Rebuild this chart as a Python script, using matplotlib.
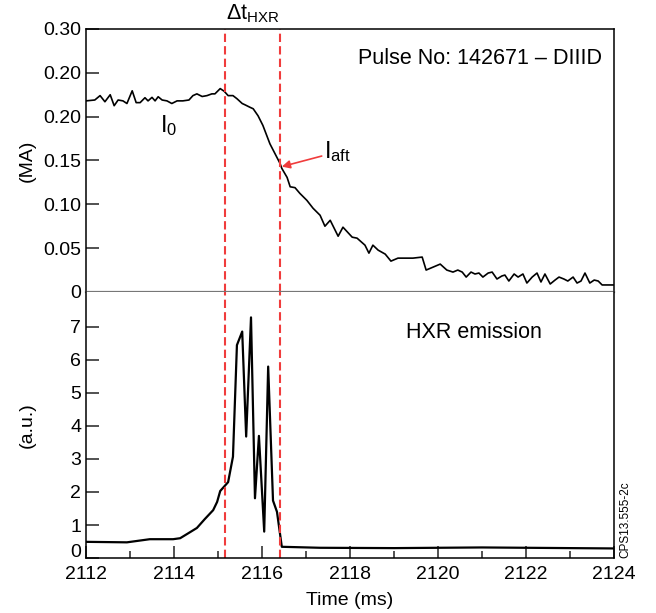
import matplotlib
matplotlib.use("Agg")
import matplotlib.pyplot as plt
import matplotlib.transforms as mtransforms
from matplotlib.ticker import FixedLocator, MultipleLocator

plt.rcParams['font.family'] = ['Liberation Sans', 'DejaVu Sans']
plt.rcParams['mathtext.fontset'] = 'custom'
plt.rcParams['mathtext.rm'] = 'Liberation Sans'
plt.rcParams['mathtext.it'] = 'Liberation Sans'

# ---- data: plasma current (MA) ----
t_ip = [2112.00, 2112.20, 2112.32, 2112.43, 2112.55, 2112.64, 2112.73, 2112.84, 2112.93,
        2113.05, 2113.14, 2113.23, 2113.34, 2113.41, 2113.50, 2113.57, 2113.64, 2113.73,
        2113.84, 2113.95, 2114.07, 2114.20, 2114.34, 2114.43, 2114.52, 2114.64, 2114.75,
        2114.86, 2114.93, 2115.05, 2115.14, 2115.23, 2115.34, 2115.43, 2115.55, 2115.61,
        2115.73, 2115.80, 2115.91, 2116.02, 2116.18, 2116.41, 2116.45, 2116.57, 2116.64,
        2116.75, 2116.86, 2117.02, 2117.16, 2117.32, 2117.43, 2117.55, 2117.73, 2117.84,
        2118.05, 2118.16, 2118.34, 2118.43, 2118.52, 2118.64, 2118.80, 2118.93, 2119.09,
        2119.30, 2119.43, 2119.64, 2119.73, 2119.89, 2120.05, 2120.20, 2120.34, 2120.45,
        2120.55, 2120.64, 2120.75, 2120.84, 2120.93, 2121.02, 2121.14, 2121.23, 2121.34,
        2121.45, 2121.52, 2121.61, 2121.73, 2121.82, 2121.93, 2122.02, 2122.14, 2122.25,
        2122.34, 2122.43, 2122.55, 2122.66, 2122.75, 2122.86, 2122.95, 2123.07, 2123.16,
        2123.25, 2123.34, 2123.45, 2123.55, 2123.64, 2123.73, 2123.84, 2124.00]
ip = [0.218, 0.219, 0.224, 0.217, 0.225, 0.2125, 0.219, 0.218, 0.215,
      0.2295, 0.216, 0.216, 0.2216, 0.218, 0.222, 0.218, 0.2227, 0.219,
      0.218, 0.215, 0.218, 0.218, 0.219, 0.224, 0.226, 0.223, 0.224,
      0.226, 0.226, 0.232, 0.229, 0.224, 0.224, 0.2205, 0.215, 0.2136,
      0.2106, 0.209, 0.201, 0.190, 0.169, 0.1466, 0.141, 0.1307, 0.120,
      0.119, 0.1125, 0.1045, 0.0955, 0.0875, 0.075, 0.0818, 0.0636, 0.0739,
      0.0625, 0.0614, 0.0534, 0.0443, 0.0534, 0.0477, 0.0432, 0.0352, 0.0386,
      0.0386, 0.0386, 0.0398, 0.025, 0.0284, 0.0318, 0.025, 0.0227, 0.025,
      0.0227, 0.017, 0.0227, 0.0205, 0.0216, 0.017, 0.0216, 0.0227, 0.0148,
      0.0182, 0.0193, 0.0125, 0.0205, 0.017, 0.0205, 0.0102, 0.017, 0.0216,
      0.0114, 0.0205, 0.0091, 0.0136, 0.017, 0.0148, 0.0125, 0.017, 0.0102,
      0.0125, 0.0216, 0.0102, 0.0136, 0.0125, 0.008, 0.008, 0.008]

# ---- data: HXR emission (a.u.) ----
t_hxr = [2112.00, 2112.93, 2113.45, 2113.98, 2114.14, 2114.30, 2114.52, 2114.70, 2114.89,
         2114.98, 2115.05, 2115.23, 2115.34, 2115.43, 2115.55, 2115.64, 2115.75, 2115.84,
         2115.93, 2116.05, 2116.14, 2116.25, 2116.34, 2116.45, 2117.32, 2119.00, 2121.00,
         2124.00]
hxr = [0.49, 0.475, 0.57, 0.57, 0.60, 0.73, 0.91, 1.18, 1.45,
       1.70, 2.03, 2.30, 3.07, 6.45, 6.86, 3.68, 7.29, 1.81,
       3.70, 0.80, 5.80, 1.74, 1.40, 0.34, 0.31, 0.30, 0.32,
       0.29]

t_hxr_window = [2115.16, 2116.41]
ip_ticks = [0, 0.05, 0.10, 0.15, 0.20, 0.25, 0.30]
ip_ticklabels = ['0', '0.05', '0.10', '0.15', '0.20', '0.20', '0.30']
hxr_ticks = [0, 1, 2, 3, 4, 5, 6, 7]
x_ticks = [2112, 2114, 2116, 2118, 2120, 2122, 2124]

RED = '#f03c3c'
FS = 14
FT = 15.5

fig = plt.figure(figsize=(6.56, 6.13), dpi=100)
ax1 = fig.add_axes([0.1311, 0.5237, 0.8049, 0.4290])
ax2 = fig.add_axes([0.1311, 0.0897, 0.8049, 0.4340])

for ax in (ax1, ax2):
    ax.set_xlim(2112, 2124)
    ax.tick_params(direction='in', labelsize=FS, length=9, width=1.2, color='#333333')
    for s in ax.spines.values():
        s.set_linewidth(1.1)

# top panel
ax1.plot(t_ip, ip, color='black', lw=1.2)
ax1.set_ylim(0, 0.30)
ax1.yaxis.set_major_locator(FixedLocator(ip_ticks))
ax1.set_yticklabels(ip_ticklabels)
ax1.set_xticks([])
ax1.spines['bottom'].set_color('#777777')
ax1.spines['bottom'].set_linewidth(1.6)
ax1.set_ylabel('(MA)', fontsize=FS)
ax1.yaxis.set_label_coords(-0.095, 0.5)
for tv in t_hxr_window:
    ax1.axvline(tv, color=RED, lw=1.5, ls=(0, (4, 2)))
ax1.text(2123.72, 0.266, 'Pulse No: 142671 \u2013 DIIID', fontsize=FT, ha='right', va='center')
ax1.text(2113.87, 0.190, r'$\mathrm{I}_{0}$', fontsize=FT + 1.5, ha='center', va='center')
ax1.annotate(r'$\mathrm{I}_{\mathrm{aft}}$', xy=(2116.45, 0.143), xytext=(2117.42, 0.160),
             fontsize=FT + 1.5, ha='left', va='center',
             arrowprops=dict(arrowstyle='-|>', color=RED, lw=1.2, mutation_scale=12,
                             shrinkA=0, shrinkB=0))
ax1.text(sum(t_hxr_window) / 2, 0.305, r'$\Delta\mathrm{t}_{\mathrm{HXR}}$', fontsize=FT,
         ha='center', va='bottom')

# bottom panel
ax2.plot(t_hxr, hxr, color='black', lw=1.6)
ax2.set_ylim(0, 8.06)
ax2.yaxis.set_major_locator(FixedLocator(hxr_ticks))
ax2.set_xticks(x_ticks)
ax2.xaxis.set_minor_locator(MultipleLocator(1))
ax2.tick_params(axis='x', which='major', pad=6)
ax2.tick_params(axis='x', which='minor', direction='in', length=5, width=1.2, color='#333333')
ax2.spines['top'].set_visible(False)
ax2.set_ylabel('(a.u.)', fontsize=FS)
ax2.yaxis.set_label_coords(-0.095, 0.5)
ax2.set_xlabel('Time (ms)', fontsize=FS, labelpad=6)
for tv in t_hxr_window:
    ax2.axvline(tv, color=RED, lw=1.5, ls=(0, (4, 2)))
ax2.text(2120.82, 6.82, 'HXR emission', fontsize=FT, ha='center', va='center')
fig.text(0.953, 0.0897, 'CPS13.555-2c', fontsize=8.5, rotation=90, ha='center', va='bottom')

# lift the bottom "0" label a little so it clears the x tick labels
zero_lbl = ax2.get_yticklabels()[0]
zero_lbl.set_transform(zero_lbl.get_transform() +
                       mtransforms.ScaledTranslation(0, 0.08, fig.dpi_scale_trans))

fig.savefig('out.png', dpi=100)
